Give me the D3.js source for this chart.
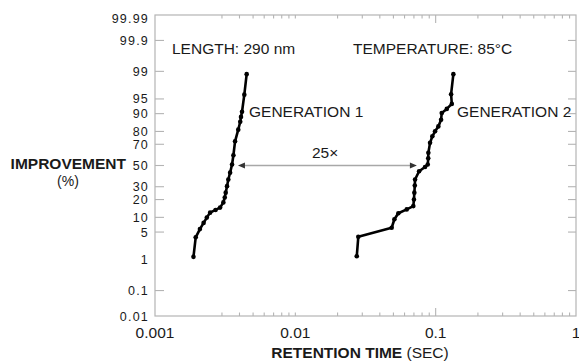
<!DOCTYPE html>
<html>
<head>
<meta charset="utf-8">
<script src="https://cdn.jsdelivr.net/npm/d3@7"></script>
<style>
  html, body { margin: 0; padding: 0; background: #fff; }
  svg { display: block; font-family: "Liberation Sans", Arial, Helvetica, sans-serif; }
</style>
</head>
<body>
<div id="vis"></div>
<script>
// Retention time distributions on normal-probability vs log-time axes.

// Generation 1: retention time (s), cumulative improvement (%)
const GEN1_TIME = [0.00188, 0.00195, 0.00209, 0.00222, 0.00234, 0.00247, 0.00270, 0.00291,
                   0.00307, 0.00314, 0.00319, 0.00326, 0.00333, 0.00343, 0.00354, 0.00362,
                   0.00372, 0.00392, 0.00405, 0.00410, 0.00417, 0.00433, 0.00450];
const GEN1_PCT  = [1.2, 3.8, 5.8, 7.8, 9.9, 12.2, 13.6, 14.9,
                   18.1, 21.5, 25.1, 30.5, 36.5, 43, 51, 60,
                   72.5, 81.2, 86, 88.5, 90.8, 96, 98.8];

// Generation 2
const GEN2_TIME = [0.0274, 0.0281, 0.0486, 0.0508, 0.0542, 0.0622, 0.0693, 0.0700, 0.0705,
                   0.0710, 0.0713, 0.0762, 0.0840, 0.0878, 0.0885, 0.0887, 0.0912, 0.0947,
                   0.0990, 0.1045, 0.1093, 0.1105, 0.1200, 0.1303, 0.1288, 0.1337];
const GEN2_PCT  = [1.25, 3.9, 6.2, 9.2, 11.9, 13.9, 15.8, 20, 25.1,
                   31, 36.5, 44.4, 48.5, 51, 57, 62.3, 71.2, 76.5,
                   80.1, 83.3, 87.1, 90.3, 91.9, 93.6, 96.1, 98.8];

// Axis ticks
const Y_LABELS  = [99.99, 99.9, 99, 95, 90, 80, 70, 50, 30, 20, 10, 5, 1, 0.1, 0.01];
const Y_TICKS   = [99.9, 99, 95, 90, 80, 70, 50, 30, 20, 10, 5, 0.1];
const X_LABELS  = [0.001, 0.01, 0.1, 1];
const X_TICKS   = [0.003, 0.004, 0.005, 0.006, 0.007, 0.008, 0.009, 0.01,
                   0.02, 0.03, 0.04, 0.05, 0.06, 0.07, 0.08, 0.09, 0.1,
                   0.2, 0.3, 0.4, 0.5, 0.6, 0.7, 0.8, 0.9];
const X_LONG    = [0.1];

// 25x arrow between the two distributions at the median
const ARROW_TIME = [0.0039, 0.0735];
const ARROW_PCT  = 50;

// Inverse normal CDF (Acklam)
function probit(p) {
  const a = [-3.969683028665376e+01, 2.209460984245205e+02, -2.759285104469687e+02,
             1.383577518672690e+02, -3.066479806614716e+01, 2.506628277459239e+00];
  const b = [-5.447609879822406e+01, 1.615858368580409e+02, -1.556989798598866e+02,
             6.680131188771972e+01, -1.328068155288572e+01];
  const c = [-7.784894002430293e-03, -3.223964580411365e-01, -2.400758277161838e+00,
             -2.549671924305830e+00, 4.374664141464968e+00, 2.938163982698783e+00];
  const d = [7.784695709041462e-03, 3.224671290700398e-01, 2.445134137142996e+00,
             3.754408661907416e+00];
  const pl = 0.02425;
  if (p < pl) {
    const q = Math.sqrt(-2 * Math.log(p));
    return (((((c[0]*q+c[1])*q+c[2])*q+c[3])*q+c[4])*q+c[5]) / ((((d[0]*q+d[1])*q+d[2])*q+d[3])*q+1);
  }
  if (p > 1 - pl) {
    const q = Math.sqrt(-2 * Math.log(1 - p));
    return -(((((c[0]*q+c[1])*q+c[2])*q+c[3])*q+c[4])*q+c[5]) / ((((d[0]*q+d[1])*q+d[2])*q+d[3])*q+1);
  }
  const q = p - 0.5, r = q * q;
  return (((((a[0]*r+a[1])*r+a[2])*r+a[3])*r+a[4])*r+a[5])*q /
         (((((b[0]*r+b[1])*r+b[2])*r+b[3])*r+b[4])*r+1);
}

const W = 579, H = 361;
const margin = { top: 15, right: 3, bottom: 45, left: 155 };
const innerW = W - margin.left - margin.right;
const innerH = H - margin.top - margin.bottom;

const AXIS_COLOR = "#b4b4b4";
const TEXT_COLOR = "#1a1a1a";
const FONT_PX    = "15.5px";
const TICK_PX    = "12.5px";

const svg = d3.select("#vis").append("svg")
  .attr("width", W)
  .attr("height", H);

const g = svg.append("g")
  .attr("transform", `translate(${margin.left},${margin.top})`);

// ── Scales ──────────────────────────────────────────────────────────────────

const x = d3.scaleLog().domain([0.001, 1]).range([0, innerW]);
const z = d3.scaleLinear()
  .domain([probit(0.0001), probit(0.9999)])
  .range([innerH, 0]);
const y = pct => z(probit(pct / 100));

// ── Frame & ticks ───────────────────────────────────────────────────────────

g.append("rect")
  .attr("width", innerW).attr("height", innerH)
  .attr("fill", "none")
  .attr("stroke", AXIS_COLOR).attr("stroke-width", 1.2);

const tickLen = t => X_LONG.includes(t) ? 8 : 3.5;

const xt = g.append("g").attr("stroke", AXIS_COLOR).attr("stroke-width", 1.1);
X_TICKS.forEach(t => {
  xt.append("line")
    .attr("x1", x(t)).attr("x2", x(t))
    .attr("y1", innerH).attr("y2", innerH - tickLen(t));
  xt.append("line")
    .attr("x1", x(t)).attr("x2", x(t))
    .attr("y1", 0).attr("y2", tickLen(t));
});

const yt = g.append("g").attr("stroke", AXIS_COLOR).attr("stroke-width", 1.1);
Y_TICKS.forEach(p => {
  yt.append("line")
    .attr("x1", 0).attr("x2", 9)
    .attr("y1", y(p)).attr("y2", y(p));
  yt.append("line")
    .attr("x1", innerW - 8).attr("x2", innerW)
    .attr("y1", y(p)).attr("y2", y(p));
});

// Tick labels
g.append("g")
  .selectAll("text")
  .data(Y_LABELS)
  .join("text")
    .attr("x", -6)
    .attr("y", p => Math.max(y(p), 3))
    .attr("dy", "0.36em")
    .attr("text-anchor", "end")
    .style("font-size", TICK_PX)
    .style("letter-spacing", "1.2px")
    .style("fill", TEXT_COLOR)
    .text(p => String(p));

g.append("g")
  .selectAll("text")
  .data(X_LABELS)
  .join("text")
    .attr("x", t => x(t))
    .attr("y", innerH + 22)
    .attr("text-anchor", "middle")
    .style("font-size", FONT_PX)
    .style("fill", TEXT_COLOR)
    .text(t => String(t));

// Axis titles
svg.append("text")
  .attr("x", 126).attr("y", 169)
  .attr("text-anchor", "end")
  .style("font-size", FONT_PX).style("font-weight", "bold")
  .style("fill", TEXT_COLOR)
  .text("IMPROVEMENT");

svg.append("text")
  .attr("x", 68).attr("y", 186)
  .attr("text-anchor", "middle")
  .style("font-size", "14px")
  .style("fill", TEXT_COLOR)
  .text("(%)");

const xTitle = svg.append("text")
  .attr("x", 360).attr("y", 358)
  .attr("text-anchor", "middle")
  .style("font-size", FONT_PX)
  .style("fill", TEXT_COLOR);
xTitle.append("tspan").style("font-weight", "bold").text("RETENTION TIME ");
xTitle.append("tspan").text("(SEC)");

// ── Curves ──────────────────────────────────────────────────────────────────

const series = [
  GEN1_TIME.map((t, i) => ({ t, p: GEN1_PCT[i] })),
  GEN2_TIME.map((t, i) => ({ t, p: GEN2_PCT[i] })),
];

const line = d3.line().x(d => x(d.t)).y(d => y(d.p));

series.forEach(s => {
  g.append("path")
    .datum(s)
    .attr("d", line)
    .attr("fill", "none")
    .attr("stroke", "#000")
    .attr("stroke-width", 2.6)
    .attr("stroke-linejoin", "round");
  g.append("g")
    .selectAll("circle")
    .data(s)
    .join("circle")
      .attr("cx", d => x(d.t))
      .attr("cy", d => y(d.p))
      .attr("r", 2.3)
      .attr("fill", "#000");
});

// ── Arrow ───────────────────────────────────────────────────────────────────

const ay = y(ARROW_PCT);
const ax0 = x(ARROW_TIME[0]), ax1 = x(ARROW_TIME[1]);
g.append("line")
  .attr("x1", ax0 + 4).attr("x2", ax1 - 4)
  .attr("y1", ay).attr("y2", ay)
  .attr("stroke", "#a8a8a8").attr("stroke-width", 1.3);
g.append("path")
  .attr("d", `M${ax0},${ay}l7,-3v6z M${ax1},${ay}l-7,-3v6z`)
  .attr("fill", "#333");

// ── Annotations ─────────────────────────────────────────────────────────────

const notes = [
  { text: "LENGTH: 290 nm",    x: 172, y: 54 },
  { text: "TEMPERATURE: 85°C", x: 353, y: 54 },
  { text: "GENERATION 1",      x: 249, y: 117 },
  { text: "GENERATION 2",      x: 457, y: 117 },
  { text: "25×",               x: 312, y: 158 },
];
svg.append("g")
  .selectAll("text")
  .data(notes)
  .join("text")
    .attr("x", d => d.x).attr("y", d => d.y)
    .style("font-size", FONT_PX)
    .style("fill", TEXT_COLOR)
    .text(d => d.text);
</script>
</body>
</html>
